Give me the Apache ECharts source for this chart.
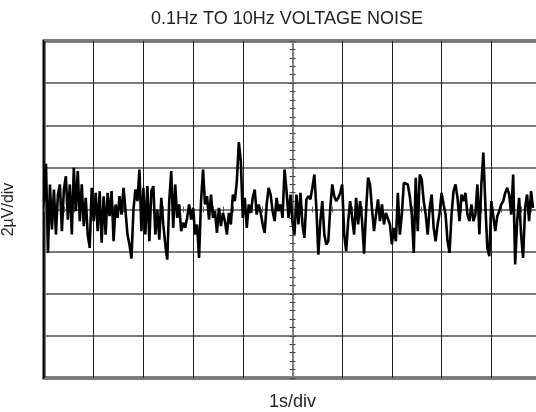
<!DOCTYPE html>
<html>
<head>
<meta charset="utf-8">
<script src="https://cdn.jsdelivr.net/npm/echarts@6/dist/echarts.min.js"></script>
<style>
html,body{margin:0;padding:0;background:#fff;}
#chart{width:536px;height:412px;}
</style>
</head>
<body>
<div id="chart"></div>
<script>
const titleText = '0.1Hz TO 10Hz VOLTAGE NOISE';
const xName = '1s/div';
const yName = '2µV/div';
const timeStep = 0.04; // seconds per sample
const xRange = [0, 10];   // s, 10 divisions of 1 s
const yRange = [-8, 8];   // µV, 8 divisions of 2 µV
const noise = [
 0.40, 2.17, -2.06, 1.19, -0.95, 0.95, -1.19, 0.71, 1.19, -1.03, 0.95, 1.58, -0.48, 1.19, -1.19, 1.98, -0.08, 1.82, -0.55, 1.19,
 -0.79, 0.55, -1.19, -1.82, 1.03, -0.55, 0.79, -1.03, 0.87, -1.58, 0.63, -1.19, 0.79, -0.32, 0.87, -1.51, 0.24, -0.40, 0.63, -0.24, 1.03,
 -0.08, -1.19, -1.66, -2.33, 0, 0.95, 0.40, 1.90, -1.03, 1.03, -1.19, 1.11, -1.51, 0.87, 1.11, -1.19, 0, -1.43, 0.55, -0.71,
 -1.66, -2.38, 0.40, 1.82, -0.87, 1.19, -0.40, 0.24, -1.03, -0.63, -0.87, -0.40, 0.24, -0.48, 0.08, -1.19, -0.71, -2.30, 0.40, 1.90, 0.24,
 0.63, -0.48, 0.71, -0.40, -0.08, -1.11, 0.08, -0.79, -0.16, -0.55, -1.19, -0.16, -0.71, 0.71, 0.40, 1.35, 3.2, 2.30, -0.40, 0.55,
 -0.87, 0.24, -0.16, 0.55, 0.95, -0.24, 0.24, -0.16, -0.71, -1.11, 0.24, 1.03, 0.71, -0.08, -0.55, 0.55, -0.08, 0.24, -0.40, 1.90, 0.87,
 -0.40, 0.71, -0.63, -1.19, 0.71, -0.71, 0.79, -0.71, -1.35, 0.48, 0.63, 0.48, 1.03, 1.66, 0.08, -2.14, -0.55, 0.40, -1.19, -1.66,
 -1.51, 0.08, 1.19, 0.63, 0.40, 0.55, 0.79, 1.19, -1.19, -1.98, -0.55, 0.40, -0.40, -1.19, 0.55, -0.71, 0.40, -0.55, -2.1, -0.08, 1.51,
 1.19, 0, -1.03, -0.24, 0.48, -0.55, 0.24, -0.71, -0.16, -0.08, -0.71, -1.66, -0.87, -1.51, 0.79, -1.19, -0.24, 1.27, 1.35, 1.19,
 0.63, -0.24, -2.06, 1.51, -1.03, 1.66, 1.43, 0.40, -0.24, -1.19, 0.08, 0.71, -0.87, -1.51, -0.71, -0.16, 0.79, 0.24, -0.24, -1.51, -2.06,
 -0.24, 0.87, 1.19, 0.55, -0.55, 0.71, 0.40, 0.79, -0.24, -0.55, 0.24, -0.55, -0.24, 1.19, -1.19, 1.19, 2.7, 0.24, -1.82, -2.22,
 0.40, 0.40, -1.03, -0.32, -0.08, 0.24, 0.40, 0.79, 1.03, 0.71, -0.24, 1.66, -2.61, -0.55, 0.55, -1.19, -2.30, 0.08, 0.71, -0.55, 0.87, 0.08
];

const seriesData = noise.map((v, i) => [+(i * timeStep).toFixed(3), v]);

const FONT = 'Liberation Sans, Arial, sans-serif';
const GRID = {left: 44, top: 41, width: 497, height: 337};
const hidden = {show: false};

const chart = echarts.init(document.getElementById('chart'), null, {renderer: 'canvas'});
chart.setOption({
  animation: false,
  backgroundColor: '#fff',
  graphic: [{
    type: 'text', x: 287, y: 19,
    style: {text: titleText, font: '18px ' + FONT, fill: '#222', textAlign: 'center', textVerticalAlign: 'middle'}
  }],
  grid: Object.assign({show: true, borderColor: '#000', borderWidth: 3, containLabel: false, outerBoundsMode: 'none'}, GRID),
  xAxis: [
    {type: 'value', min: xRange[0], max: xRange[1], interval: 1,
     axisLine: hidden, axisTick: hidden, axisLabel: hidden,
     splitLine: {show: true, lineStyle: {color: '#1e1e1e', width: 1}},
     name: xName, nameLocation: 'middle', nameGap: 15,
     nameTextStyle: {fontSize: 18, color: '#222', fontFamily: FONT}},
    {type: 'value', min: xRange[0], max: xRange[1], interval: 0.2, position: 'bottom', offset: -GRID.height / 2,
     axisLine: {show: true, lineStyle: {color: '#808080', width: 1}},
     axisTick: {show: true, inside: true, length: 3, lineStyle: {color: '#555', width: 1}},
     axisLabel: hidden, splitLine: hidden},
    {type: 'value', min: xRange[0], max: xRange[1], interval: 0.2, position: 'bottom', offset: -GRID.height / 2,
     axisLine: hidden,
     axisTick: {show: true, inside: false, length: 3, lineStyle: {color: '#555', width: 1}},
     axisLabel: hidden, splitLine: hidden}
  ],
  yAxis: [
    {type: 'value', min: yRange[0], max: yRange[1], interval: 2,
     axisLine: hidden, axisTick: hidden, axisLabel: hidden,
     splitLine: {show: true, lineStyle: {color: '#7a7a7a', width: 2}},
     name: yName, nameLocation: 'middle', nameGap: 27,
     nameTextStyle: {fontSize: 16, color: '#222', fontFamily: FONT}},
    {type: 'value', min: yRange[0], max: yRange[1], interval: 0.4, position: 'left', offset: -GRID.width / 2,
     axisLine: {show: true, lineStyle: {color: '#808080', width: 2}},
     axisTick: {show: true, inside: true, length: 3, lineStyle: {color: '#444', width: 1}},
     axisLabel: hidden, splitLine: hidden},
    {type: 'value', min: yRange[0], max: yRange[1], interval: 0.4, position: 'left', offset: -GRID.width / 2,
     axisLine: hidden,
     axisTick: {show: true, inside: false, length: 3, lineStyle: {color: '#444', width: 1}},
     axisLabel: hidden, splitLine: hidden}
  ],
  series: [{
    type: 'line', xAxisIndex: 0, yAxisIndex: 0, data: seriesData,
    showSymbol: false, symbol: 'none', z: 10,
    lineStyle: {color: '#000', width: 2.6}
  }]
});
</script>
</body>
</html>
